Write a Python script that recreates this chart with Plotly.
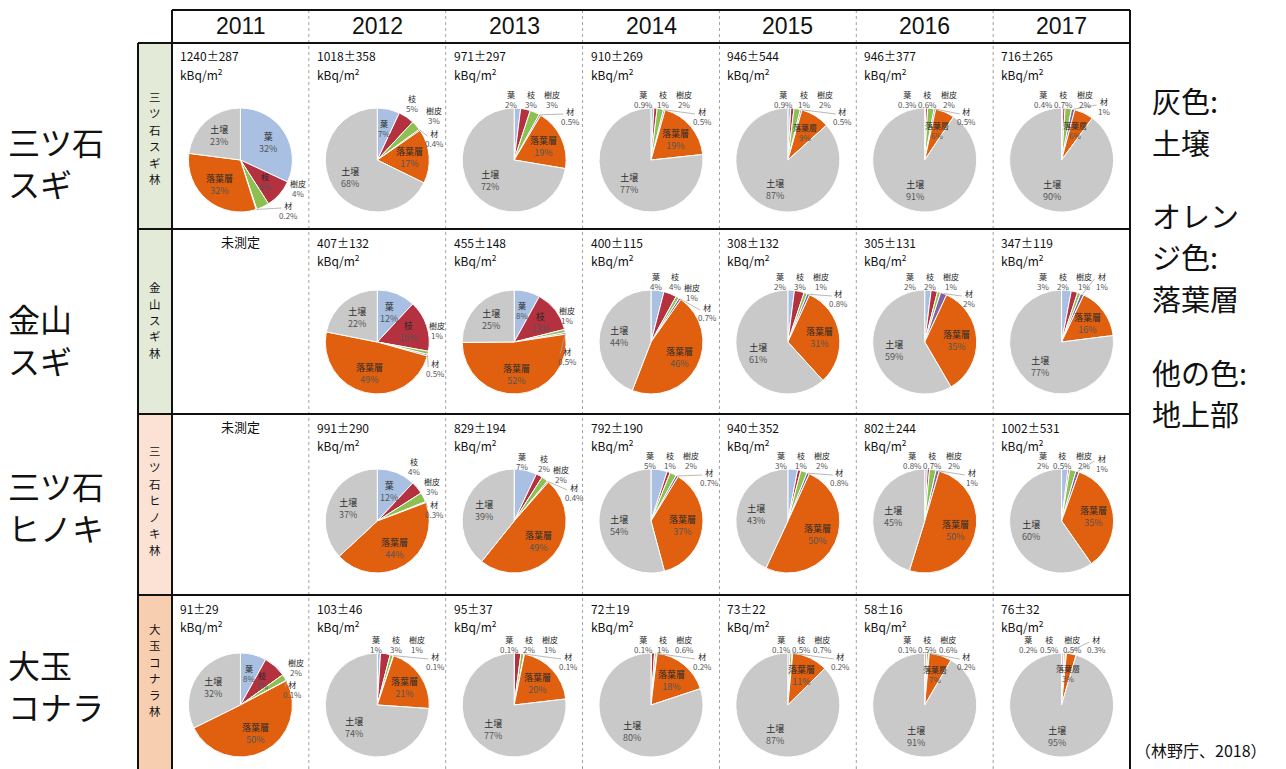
import math
import plotly.graph_objects as go

W, H = 1286, 769

# ---------------- data ----------------
years = ["2011", "2012", "2013", "2014", "2015", "2016", "2017"]
components = ["葉", "枝", "樹皮", "材", "落葉層", "土壌"]
forest_names = ["三ツ石スギ林", "金山スギ林", "三ツ石ヒノキ林", "大玉コナラ林"]
site_line1 = ["三ツ石", "金山", "三ツ石", "大玉"]
site_line2 = ["スギ", "スギ", "ヒノキ", "コナラ"]
legend_lines = ["灰色:", "土壌", "オレン", "ジ色:", "落葉層", "他の色:", "地上部"]
not_measured = "未測定"
unit_text = "kBq/m<sup>2</sup>"
source_text = "（林野庁、2018）"

# total 137Cs stock (kBq/m2): mean and sd; None = not measured
mitsuishi_sugi_mean = [1240, 1018, 971, 910, 946, 946, 716]
mitsuishi_sugi_sd = [287, 358, 297, 269, 544, 377, 265]
kanayama_sugi_mean = [None, 407, 455, 400, 308, 305, 347]
kanayama_sugi_sd = [None, 132, 148, 115, 132, 131, 119]
mitsuishi_hinoki_mean = [None, 991, 829, 792, 940, 802, 1002]
mitsuishi_hinoki_sd = [None, 290, 194, 190, 352, 244, 531]
otama_konara_mean = [91, 103, 95, 72, 73, 58, 76]
otama_konara_sd = [29, 46, 37, 19, 22, 16, 32]

# share (%) per year in order [葉, 枝, 樹皮, 材, 落葉層, 土壌]
mitsuishi_sugi_share = [
    [32, 9, 4, 0.2, 32, 23],
    [7, 5, 3, 0.4, 17, 68],
    [2, 3, 3, 0.5, 19, 72],
    [0.9, 1, 2, 0.5, 19, 77],
    [0.9, 1, 2, 0.5, 9, 87],
    [0.3, 0.6, 2, 0.5, 6, 91],
    [0.4, 0.7, 2, 1, 6, 90],
]
kanayama_sugi_share = [
    None,
    [12, 16, 1, 0.5, 49, 22],
    [8, 13, 1, 0.5, 52, 25],
    [4, 4, 1, 0.7, 46, 44],
    [2, 3, 1, 0.8, 31, 61],
    [2, 2, 1, 2, 35, 59],
    [3, 2, 1, 1, 16, 77],
]
mitsuishi_hinoki_share = [
    None,
    [12, 4, 3, 0.3, 44, 37],
    [7, 2, 2, 0.4, 49, 39],
    [5, 1, 2, 0.7, 37, 54],
    [3, 1, 2, 0.8, 50, 43],
    [0.8, 0.7, 2, 1, 50, 45],
    [2, 0.5, 2, 1, 35, 60],
]
otama_konara_share = [
    [8, 7, 2, 0.1, 50, 32],
    [1, 3, 1, 0.1, 21, 74],
    [0.1, 2, 1, 0.1, 20, 77],
    [0.1, 1, 0.6, 0.2, 18, 80],
    [0.1, 0.5, 0.7, 0.2, 11, 87],
    [0.1, 0.5, 0.6, 0.2, 7, 91],
    [0.2, 0.5, 0.5, 0.3, 3, 95],
]

means = [mitsuishi_sugi_mean, kanayama_sugi_mean, mitsuishi_hinoki_mean, otama_konara_mean]
sds = [mitsuishi_sugi_sd, kanayama_sugi_sd, mitsuishi_hinoki_sd, otama_konara_sd]
shares = [mitsuishi_sugi_share, kanayama_sugi_share, mitsuishi_hinoki_share, otama_konara_share]

# ---------------- layout / style ----------------
COLORS = ["#A9C0E2", "#B4313F", "#8CC152", "#8064A2", "#E0600F", "#C9C9C9"]
JP = "Noto Sans CJK JP"
TABLE_L, TABLE_R, LABEL_L, HEAD_T = 172, 1130, 138, 10
ROW_EDGES = [43, 229, 414, 595, 769]
COL_W = (TABLE_R - TABLE_L) / 7
PIE_CY = [160, 342, 521, 705]
PIE_R = 52
ROW_FILL = ["#E3EBD8", "#E3EBD8", "#FBE2D5", "#F7CFB0"]
FOREST_CY = [138, 320, 500, 670]
SITE_CY = [162, 339, 506, 685]
LEGEND_Y = [100, 142, 215, 256, 298, 372, 413]
LBL_SIZE_OUT = 8
LBL_SIZE_IN = 9


def top_row(s, zai=None):
    d = {0: (s - 11, -61), 1: (s + 9, -61), 2: (s + 30, -61), 3: (s + 48, -44)}
    if zai is not None:
        d[3] = zai
    return d


# outside label offsets (px from pie centre); others are drawn inside
LABEL_POS = {
    (0, 0): {2: (58, 28), 3: (48, 50)},
    (0, 1): {1: (35, -57), 2: (57, -45), 3: (57, -22)},
    (0, 2): top_row(8),
    (0, 3): top_row(3),
    (0, 4): top_row(7),
    (0, 5): top_row(-6),
    (0, 6): top_row(-7, (42, -53)),
    (1, 1): {2: (60, -12), 3: (58, 27)},
    (1, 2): {2: (53, -27), 3: (53, 14)},
    (1, 3): {0: (5, -61), 1: (24, -61), 2: (41, -50), 3: (56, -30)},
    (1, 4): top_row(3),
    (1, 5): top_row(-4),
    (1, 6): top_row(-8, (40, -61)),
    (2, 1): {1: (37, -55), 2: (55, -35), 3: (57, -12)},
    (2, 2): {0: (8, -60), 1: (30, -58), 2: (47, -47), 3: (60, -29)},
    (2, 3): top_row(10),
    (2, 4): top_row(4),
    (2, 5): top_row(-1),
    (2, 6): top_row(-8, (40, -58)),
    (3, 0): {2: (56, -38), 3: (52, -16)},
    (3, 1): top_row(10),
    (3, 2): top_row(6),
    (3, 3): top_row(3),
    (3, 4): top_row(5),
    (3, 5): top_row(-6),
    (3, 6): {0: (-33, -61), 1: (-12, -61), 2: (11, -61), 3: (35, -61)},
}


def px(x):
    return x / W


def py(y):
    return 1 - y / H


fig = go.Figure()
annotations = []
shapes = []

# row label fills
for r in range(4):
    shapes.append(dict(type="rect", xref="paper", yref="paper",
                       x0=px(LABEL_L), x1=px(TABLE_L), y0=py(ROW_EDGES[r + 1]), y1=py(ROW_EDGES[r]),
                       fillcolor=ROW_FILL[r], line=dict(width=0), layer="below"))

# dotted column separators
for c in range(1, 7):
    x = TABLE_L + c * COL_W
    shapes.append(dict(type="line", xref="paper", yref="paper", x0=px(x), x1=px(x),
                       y0=py(HEAD_T), y1=py(H), line=dict(color="#A0A0A0", width=1, dash="dot")))

# solid borders
blk = dict(color="#111111", width=2)
shapes.append(dict(type="line", xref="paper", yref="paper", x0=px(TABLE_L), x1=px(TABLE_R),
                   y0=py(HEAD_T), y1=py(HEAD_T), line=blk))
for y in ROW_EDGES[:-1]:
    shapes.append(dict(type="line", xref="paper", yref="paper", x0=px(LABEL_L), x1=px(TABLE_R),
                       y0=py(y), y1=py(y), line=blk))
shapes.append(dict(type="line", xref="paper", yref="paper", x0=px(LABEL_L), x1=px(LABEL_L),
                   y0=py(ROW_EDGES[0]), y1=py(H), line=blk))
for x in (TABLE_L, TABLE_R):
    shapes.append(dict(type="line", xref="paper", yref="paper", x0=px(x), x1=px(x),
                       y0=py(HEAD_T), y1=py(H), line=blk))

# header years
for c, yr in enumerate(years):
    annotations.append(dict(x=px(TABLE_L + (c + 0.5) * COL_W), y=py(26), xref="paper", yref="paper",
                            text=yr, showarrow=False, xanchor="center", yanchor="middle",
                            font=dict(family="Liberation Sans", size=23, color="#111")))

# forest labels (vertical, one glyph per line)
for r, nm in enumerate(forest_names):
    n = len(nm)
    for k, ch in enumerate(nm):
        annotations.append(dict(x=px((LABEL_L + TABLE_L) / 2),
                                y=py(FOREST_CY[r] + (k - (n - 1) / 2) * 16.5),
                                xref="paper", yref="paper", text=ch, showarrow=False,
                                xanchor="center", yanchor="middle", borderpad=0,
                                font=dict(family=JP, size=11.5, color="#111")))

# site labels (left)
for r in range(4):
    annotations.append(dict(x=px(6), y=py(SITE_CY[r]), xref="paper", yref="paper",
                            text=f"{site_line1[r]}<br>{site_line2[r]}",
                            showarrow=False, xanchor="left", yanchor="middle", align="left",
                            font=dict(family=JP, size=32, color="#111")))

# legend text (right)
for txt, yy in zip(legend_lines, LEGEND_Y):
    annotations.append(dict(x=px(1150), y=py(yy), xref="paper", yref="paper", text=txt,
                            showarrow=False, xanchor="left", yanchor="middle",
                            font=dict(family=JP, size=29, color="#111")))

annotations.append(dict(x=px(1133), y=py(750), xref="paper", yref="paper", text=source_text,
                        showarrow=False, xanchor="left", yanchor="middle",
                        font=dict(family=JP, size=16, color="#111")))


def pct(v):
    return f"{v:g}%"


for r in range(4):
    for c in range(7):
        left = TABLE_L + c * COL_W
        cx = left + COL_W / 2
        cy = PIE_CY[r]
        vals = shares[r][c]
        if vals is None:
            annotations.append(dict(x=px(cx), y=py(ROW_EDGES[r] + 12), xref="paper", yref="paper",
                                    text=not_measured, showarrow=False, xanchor="center", yanchor="middle",
                                    font=dict(family=JP, size=13, color="#111")))
            continue
        annotations.append(dict(x=px(left + 6), y=py(ROW_EDGES[r] + 13), xref="paper", yref="paper",
                                text=f"{means[r][c]}±{sds[r][c]}", showarrow=False,
                                xanchor="left", yanchor="middle",
                                font=dict(family=JP, size=12, color="#111")))
        annotations.append(dict(x=px(left + 6), y=py(ROW_EDGES[r] + 31), xref="paper", yref="paper",
                                text=unit_text, showarrow=False, xanchor="left", yanchor="middle",
                                font=dict(family=JP, size=12, color="#111")))
        fig.add_trace(go.Pie(
            values=vals, labels=components, sort=False, direction="clockwise", rotation=0,
            marker=dict(colors=COLORS, line=dict(color="white", width=1)),
            textinfo="none", hoverinfo="label+percent", showlegend=False,
            domain=dict(x=[px(cx - PIE_R), px(cx + PIE_R)], y=[py(cy + PIE_R), py(cy - PIE_R)]),
        ))
        outside = LABEL_POS.get((r, c), {})
        total = sum(vals)
        cum = 0.0
        for i, v in enumerate(vals):
            mid = (cum + v / 2) / total * 2 * math.pi
            cum += v
            if i in outside:
                dx, dy = outside[i]
                size = LBL_SIZE_OUT
                if i == 3:
                    # thin leader line from slice edge to the 材 label
                    ex = cx + math.sin(mid) * PIE_R
                    ey = cy - math.cos(mid) * PIE_R
                    shapes.append(dict(type="line", xref="paper", yref="paper",
                                       x0=px(ex), y0=py(ey), x1=px(cx + dx - 7), y1=py(cy + dy - 2),
                                       line=dict(color="#A6A6A6", width=0.8)))
            else:
                dx = math.sin(mid) * 0.62 * PIE_R
                dy = -math.cos(mid) * 0.62 * PIE_R
                size = LBL_SIZE_IN if v >= 10 else LBL_SIZE_OUT
            annotations.append(dict(
                x=px(cx + dx), y=py(cy + dy), xref="paper", yref="paper", showarrow=False,
                xanchor="center", yanchor="middle", borderpad=0,
                text=f"<span style='color:#2b2b2b'>{components[i]}</span><br>"
                     f"<span style='color:#555555'>{pct(v)}</span>",
                font=dict(family=JP, size=size)))

fig.update_layout(
    width=W, height=H, margin=dict(l=0, r=0, t=0, b=0),
    paper_bgcolor="white", plot_bgcolor="white",
    shapes=shapes, annotations=annotations, showlegend=False,
)

fig.write_html("out.html", config={"displayModeBar": False},
               post_script="document.body.style.margin='0';document.body.style.overflow='hidden';")
